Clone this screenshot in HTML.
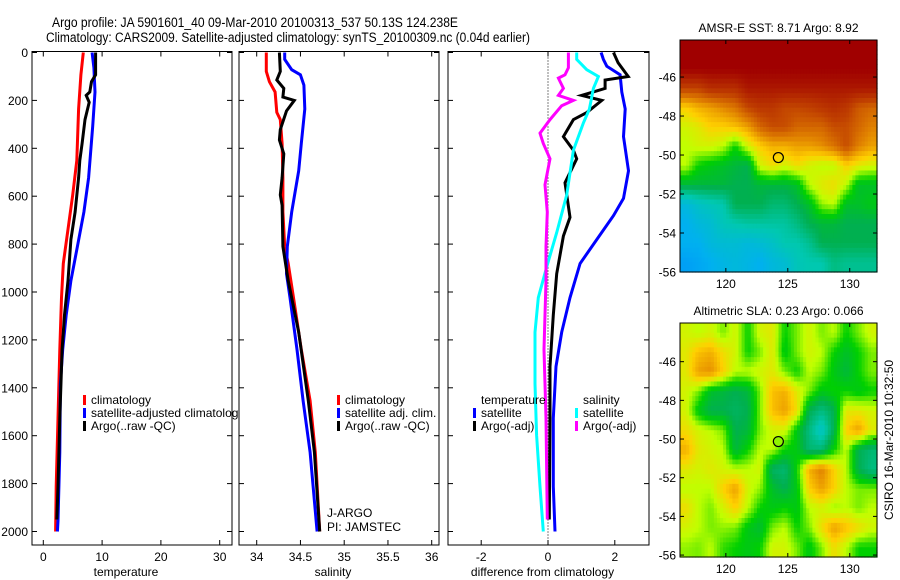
<!DOCTYPE html>
<html><head><meta charset="utf-8"><style>
html,body{margin:0;padding:0;background:#fff;}
svg{display:block;font-family:"Liberation Sans",sans-serif;}
</style></head><body>
<svg id="chart" width="900" height="580" viewBox="0 0 900 580" xmlns="http://www.w3.org/2000/svg">
<defs><clipPath id="clipP1"><rect x="32" y="40" width="207" height="520"/></clipPath></defs>
<text x="52" y="27" font-size="13.5" textLength="406" lengthAdjust="spacingAndGlyphs">Argo profile: JA 5901601_40 09-Mar-2010 20100313_537 50.13S 124.238E</text>
<text x="46" y="42" font-size="13.5" textLength="484" lengthAdjust="spacingAndGlyphs">Climatology: CARS2009. Satellite-adjusted climatology: synTS_20100309.nc (0.04d earlier)</text>
<g id="layer"></g>
</svg>
<script>
// ---- profile data ----
const depthTicks = [0,200,400,600,800,1000,1200,1400,1600,1800,2000];
const tempTicks = [0,10,20,30];
const salTicks = [34,34.5,35,35.5,36];
const diffTicks = [-2,0,2];
const tempClimDepth = [0,93,236,451,595,738,881,1024,1240,1526,1812,2000];
const tempClimVal = [6.8,6.4,6.0,5.7,5.0,4.2,3.4,3.1,2.8,2.5,2.2,2.1];
const tempSatDepth = [0,64,165,308,523,666,810,953,1096,1240,1383,1669,1956,2000];
const tempSatVal = [8.3,8.6,8.8,8.4,7.7,6.9,5.8,4.7,3.9,3.3,2.9,2.8,2.5,2.4];
const tempArgoDepth = [0,93,122,165,179,208,280,380,451,523,666,781,953,1096,1240,1526,1812,1950];
const tempArgoVal = [8.9,8.9,8.2,7.9,7.3,7.8,7.1,6.6,6.2,6.0,5.4,4.7,4.2,3.6,3.2,2.8,2.5,2.3];
const salClimDepth = [0,79,122,165,250,280,380,523,666,810,881,1024,1240,1454,1669,2000];
const salClimVal = [34.11,34.11,34.145,34.21,34.23,34.27,34.29,34.30,34.30,34.32,34.36,34.42,34.51,34.61,34.67,34.72];
const salSatDepth = [0,29,72,93,136,236,380,494,666,810,924,1024,1240,1454,1669,2000];
const salSatVal = [34.32,34.32,34.40,34.50,34.54,34.55,34.51,34.48,34.40,34.35,34.34,34.38,34.46,34.53,34.61,34.69];
const salArgoDepth = [0,79,115,150,186,200,244,322,365,423,523,595,638,810,953,1168,1454,1669,2000];
const salArgoVal = [34.26,34.27,34.23,34.31,34.30,34.43,34.34,34.27,34.26,34.31,34.29,34.27,34.29,34.30,34.36,34.48,34.59,34.66,34.72];
const dTempSatDepth = [0,29,57,93,165,236,351,494,609,681,781,881,1024,1168,1311,1526,1812,2000];
const dTempSatVal = [1.59,1.66,1.76,2.16,2.21,2.31,2.26,2.41,2.26,1.96,1.46,0.96,0.66,0.41,0.24,0.16,0.16,0.21];
const dTempArgoDepth = [0,43,100,115,150,179,200,251,280,351,408,444,544,688,766,924,1096,1311,1526,1950];
const dTempArgoVal = [1.96,2.1,2.4,1.71,1.71,1.01,1.61,1.16,0.76,0.46,0.76,0.86,0.51,0.66,0.46,0.26,0.16,0.06,0.06,0.04];
const dSalSatDepth = [0,29,72,100,150,236,294,408,595,752,895,1024,1168,1383,1598,1812,2000];
const dSalSatVal = [0.86,0.86,1.16,1.51,1.36,1.24,1.06,0.76,0.56,0.26,-0.04,-0.29,-0.39,-0.39,-0.34,-0.24,-0.14];
const dSalArgoDepth = [0,64,93,107,150,179,200,222,280,337,380,444,552,666,810,953,1240,1526,1950];
const dSalArgoVal = [0.61,0.61,0.51,0.31,0.46,0.31,0.76,0.41,0.06,-0.24,-0.14,0.06,-0.09,-0.02,-0.06,-0.06,-0.12,-0.06,-0.02];
// ---- map data (rows north->south, cols west->east) ----
const lonTicks = [120,125,130];
const latTicks = [-46,-48,-50,-52,-54,-56];
const sstGrid = [
[1,1,1,1,1,1,1,1,1,1,1,1,1,1,1,1],
[1,1,1,1,1,1,1,1,1,1,1,1,1,1,1,1],
[0.86,0.86,0.9,0.9,0.9,0.95,0.95,0.95,0.95,0.95,0.95,0.95,0.95,0.95,0.95,0.95],
[0.66,0.7,0.72,0.75,0.78,0.85,0.88,0.88,0.85,0.85,0.86,0.88,0.9,0.88,0.82,0.8],
[0.6,0.62,0.66,0.66,0.68,0.72,0.8,0.84,0.84,0.8,0.8,0.8,0.84,0.84,0.8,0.76],
[0.58,0.6,0.6,0.58,0.5,0.6,0.66,0.7,0.7,0.72,0.72,0.74,0.78,0.84,0.76,0.72],
[0.58,0.5,0.48,0.46,0.44,0.42,0.6,0.64,0.6,0.64,0.6,0.58,0.58,0.66,0.62,0.6],
[0.44,0.44,0.44,0.44,0.42,0.42,0.44,0.44,0.44,0.46,0.58,0.62,0.64,0.58,0.46,0.46],
[0.2,0.25,0.28,0.3,0.42,0.42,0.42,0.38,0.38,0.42,0.46,0.56,0.58,0.46,0.46,0.48],
[0.15,0.2,0.22,0.28,0.3,0.32,0.32,0.32,0.32,0.36,0.42,0.44,0.44,0.42,0.42,0.42],
[0.15,0.15,0.2,0.22,0.22,0.2,0.22,0.25,0.3,0.3,0.34,0.42,0.42,0.42,0.42,0.42],
[0.1,0.12,0.15,0.18,0.2,0.18,0.15,0.2,0.22,0.28,0.3,0.3,0.36,0.34,0.34,0.34]];
const slaGrid = [
[0.6,0.58,0.6,0.55,0.6,0.5,0.6,0.62,0.5,0.55,0.6,0.55,0.58,0.5,0.55,0.6],
[0.62,0.68,0.7,0.64,0.6,0.5,0.55,0.62,0.48,0.55,0.6,0.58,0.5,0.46,0.5,0.55],
[0.62,0.72,0.74,0.66,0.58,0.58,0.6,0.62,0.55,0.5,0.58,0.55,0.48,0.44,0.5,0.55],
[0.6,0.55,0.46,0.44,0.42,0.44,0.55,0.68,0.7,0.62,0.55,0.48,0.5,0.5,0.48,0.5],
[0.6,0.48,0.42,0.42,0.4,0.42,0.55,0.68,0.72,0.64,0.42,0.36,0.42,0.62,0.62,0.6],
[0.64,0.6,0.58,0.55,0.42,0.44,0.55,0.6,0.6,0.48,0.36,0.25,0.42,0.66,0.72,0.62],
[0.7,0.62,0.6,0.58,0.44,0.5,0.58,0.58,0.5,0.48,0.38,0.38,0.5,0.58,0.42,0.38],
[0.62,0.6,0.62,0.6,0.58,0.58,0.6,0.4,0.38,0.5,0.7,0.76,0.66,0.58,0.42,0.36],
[0.58,0.58,0.58,0.66,0.72,0.6,0.56,0.46,0.42,0.48,0.66,0.72,0.66,0.58,0.55,0.55],
[0.64,0.58,0.55,0.6,0.66,0.58,0.5,0.48,0.5,0.48,0.58,0.6,0.56,0.58,0.55,0.58],
[0.6,0.58,0.55,0.56,0.55,0.48,0.45,0.55,0.58,0.5,0.55,0.64,0.72,0.68,0.64,0.6],
[0.56,0.55,0.58,0.52,0.5,0.48,0.5,0.6,0.6,0.55,0.48,0.55,0.64,0.58,0.5,0.5]];
const argoLon = 124.238, argoLat = -50.13;

const NS="http://www.w3.org/2000/svg";
const L=document.getElementById('layer');
function mk(tag,attrs,parent){const e=document.createElementNS(NS,tag);for(const k in attrs)e.setAttribute(k,attrs[k]);(parent||L).appendChild(e);return e;}
function txt(x,y,s,anchor,size,parent){const t=mk('text',{x:x,y:y,'font-size':size||12,'text-anchor':anchor||'start'},parent);t.textContent=s;return t;}

const yTop=51.5,yBot=545;
function yD(d){return 52.5+d*0.2395;}

function panel(name,x0,x1,xf,ticks,xlabel,showY){
  const g=mk('g',{});
  
  
  mk('rect',{x:x0,y:yTop,width:x1-x0,height:yBot-yTop,fill:'none',stroke:'#000','stroke-width':1},g);
  depthTicks.forEach(d=>{const y=yD(d);
    mk('line',{x1:x0,y1:y,x2:x0+5,y2:y,stroke:'#000'},g);
    mk('line',{x1:x1,y1:y,x2:x1-5,y2:y,stroke:'#000'},g);
    if(showY){const t=txt(x0-4,y+4.5,String(d),'end',12,g);
      
      }
  });
  ticks.forEach(v=>{const x=xf(v);
    mk('line',{x1:x,y1:yBot,x2:x,y2:yBot-5,stroke:'#000'},g);
    mk('line',{x1:x,y1:yTop,x2:x,y2:yTop+5,stroke:'#000'},g);
    const t=txt(x,561,String(v),'middle',12,g);
    
    
  });
  const xl=txt((x0+x1)/2-6,576,xlabel,'middle',12,g);
  
  
  return g;
}
function series(g,name,depths,vals,xf,color,w){
  const pts=depths.map((d,i)=>xf(vals[i]).toFixed(1)+','+yD(d).toFixed(1)).join(' ');
  const p=mk('polyline',{points:pts,fill:'none',stroke:color,'stroke-width':w||3,'stroke-linejoin':'miter'},g);
  
  
}
function legend(g,x,y,color,label){
  if(color){const m=mk('rect',{x:x,y:y-9,width:3,height:10,fill:color},g);
    
    }
  const t=txt(x+8,y,label,'start',12,g);
  
  
}

// panel 1: temperature
const xT=v=>43.3+v*5.88;
const g1=panel('temperature-panel',32,232,xT,tempTicks,'temperature',true);
series(g1,'temp-climatology-line',tempClimDepth,tempClimVal,xT,'#f00');
series(g1,'temp-satellite-line',tempSatDepth,tempSatVal,xT,'#00f');
series(g1,'temp-argo-line',tempArgoDepth,tempArgoVal,xT,'#000');
const lg1=mk('g',{'clip-path':'url(#clipP1)'},g1);
legend(lg1,83,404,'#f00','climatology');
legend(lg1,83,417,'#00f','satellite-adjusted climatology');
legend(lg1,83,430,'#000','Argo(..raw -QC)');

// panel 2: salinity
const xS=v=>256.7+(v-34)*87.5;
const g2=panel('salinity-panel',239,439,xS,salTicks,'salinity',false);
series(g2,'sal-climatology-line',salClimDepth,salClimVal,xS,'#f00');
series(g2,'sal-satellite-line',salSatDepth,salSatVal,xS,'#00f');
series(g2,'sal-argo-line',salArgoDepth,salArgoVal,xS,'#000');
legend(g2,337,404,'#f00','climatology');
legend(g2,337,417,'#00f','satellite adj. clim.');
legend(g2,337,430,'#000','Argo(..raw -QC)');
txt(327,517,'J-ARGO','start',12,g2);
txt(327,531,'PI: JAMSTEC','start',12,g2);

// panel 3: differences
const xDf=v=>548+v*33.4;
const g3=panel('difference-panel',448,649,xDf,diffTicks,'difference from climatology',false);
mk('line',{x1:xDf(0),y1:yTop,x2:xDf(0),y2:yBot,stroke:'#000','stroke-dasharray':'1,2'},g3);
series(g3,'dtemp-satellite-line',dTempSatDepth,dTempSatVal,xDf,'#00f');
series(g3,'dtemp-argo-line',dTempArgoDepth,dTempArgoVal,xDf,'#000');
series(g3,'dsal-satellite-line',dSalSatDepth,dSalSatVal,xDf,'#0ff');
series(g3,'dsal-argo-line',dSalArgoDepth,dSalArgoVal,xDf,'#f0f');
legend(g3,473,404,null,'temperature');
legend(g3,473,417,'#00f','satellite');
legend(g3,473,430,'#000','Argo(-adj)');
legend(g3,575,404,null,'salinity');
legend(g3,575,417,'#0ff','satellite');
legend(g3,575,430,'#f0f','Argo(-adj)');

// ---- maps ----
const stops=[[0,[0,128,255]],[0.15,[0,176,240]],[0.3,[0,200,176]],[0.42,[0,176,80]],[0.5,[0,208,0]],[0.58,[192,255,0]],[0.66,[255,208,0]],[0.76,[224,128,0]],[0.86,[192,64,0]],[1,[160,0,0]]];
function cmap(v){for(let i=1;i<stops.length;i++){if(v<=stops[i][0]){const a=stops[i-1],b=stops[i];const t=(v-a[0])/(b[0]-a[0]);
  const c=a[1].map((q,k)=>Math.round(q+(b[1][k]-q)*t));return 'rgb('+c.join(',')+')';}}return 'rgb(160,0,0)';}
function sample(grid,r,c){
  const nr=grid.length,nc=grid[0].length;
  r=Math.max(0,Math.min(nr-1,r));c=Math.max(0,Math.min(nc-1,c));
  const r0=Math.floor(r),c0=Math.floor(c),r1=Math.min(nr-1,r0+1),c1=Math.min(nc-1,c0+1);
  const fr=r-r0,fc=c-c0;
  return grid[r0][c0]*(1-fr)*(1-fc)+grid[r0][c1]*(1-fr)*fc+grid[r1][c0]*fr*(1-fc)+grid[r1][c1]*fr*fc;
}
const lonMin=116.3,lonMax=132.2;
const SUB=4;
function drawMap(name,grid,top,bot,latTop,latBot,title,markerFill){
  const g=mk('g',{});
  
  
  const x0=680,x1=877;
  const xL=lon=>x0+(lon-lonMin)/(lonMax-lonMin)*(x1-x0);
  const yL=lat=>top+(latTop-lat)/(latTop-latBot)*(bot-top);
  const nr=grid.length,nc=grid[0].length;
  const dLon=(lonMax-lonMin)/(nc*SUB),dLat=(latTop-latBot)/(nr*SUB);
  for(let r=0;r<nr*SUB;r++)for(let c=0;c<nc*SUB;c++){
    const v=sample(grid,(r+0.5)/SUB-0.5,(c+0.5)/SUB-0.5);
    const xa=xL(lonMin+c*dLon),xb=xL(lonMin+(c+1)*dLon);
    const ya=yL(latTop-r*dLat),yb=yL(latTop-(r+1)*dLat);
    const cell=mk('rect',{x:xa.toFixed(2),y:ya.toFixed(2),width:(xb-xa+0.6).toFixed(2),height:(yb-ya+0.6).toFixed(2),fill:cmap(v)},g);
    
    
  }
  mk('rect',{x:x0,y:top,width:x1-x0,height:bot-top,fill:'none',stroke:'#000'},g);
  latTicks.forEach(lat=>{const y=yL(lat);
    mk('line',{x1:x0,y1:y,x2:x0+4,y2:y,stroke:'#000'},g);
    mk('line',{x1:x1,y1:y,x2:x1-4,y2:y,stroke:'#000'},g);
    txt(x0-4,y+4.5,String(lat),'end',12,g);});
  lonTicks.forEach(lon=>{const x=xL(lon);
    mk('line',{x1:x,y1:bot,x2:x,y2:bot-4,stroke:'#000'},g);
    mk('line',{x1:x,y1:top,x2:x,y2:top+4,stroke:'#000'},g);
    txt(x,bot+16,String(lon),'middle',12,g);});
  const tt=txt((x0+x1)/2,top-8,title,'middle',12,g);
  
  
  const m=mk('circle',{cx:xL(argoLon),cy:yL(argoLat),r:5,fill:markerFill,stroke:'#000','stroke-width':1.2},g);
  
  
}
drawMap('sst-map',sstGrid,40,272,-44.1,-56,'AMSR-E SST: 8.71 Argo: 8.92','none');
drawMap('sla-map',slaGrid,323,557,-44.0,-56.1,'Altimetric SLA: 0.23 Argo: 0.066',cmap(0.56));
const cs=txt(0,0,'CSIRO 16-Mar-2010 10:32:50','middle',12);
cs.setAttribute('transform','translate(893,440) rotate(-90)');


</script>
</body></html>
